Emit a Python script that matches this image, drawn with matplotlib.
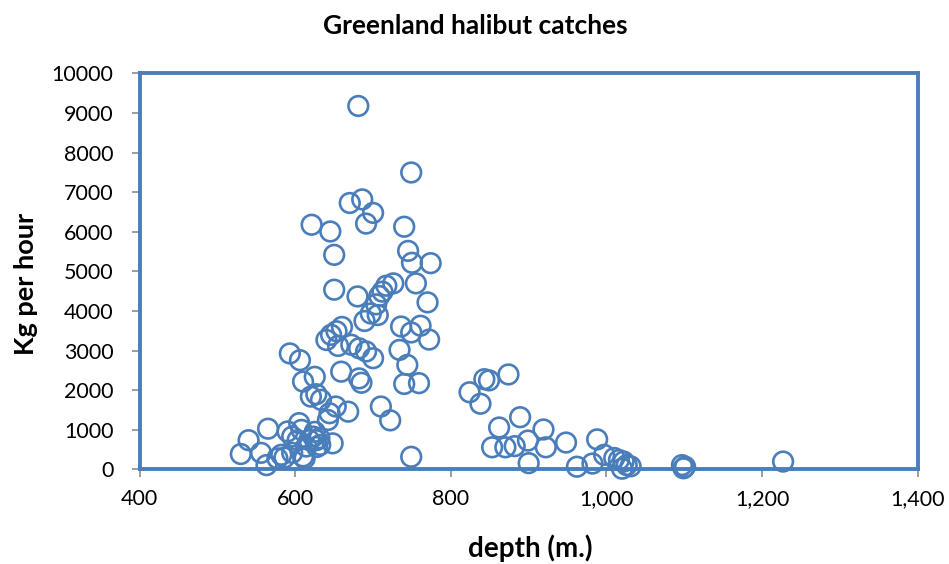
import matplotlib
matplotlib.use("Agg")
import matplotlib.pyplot as plt
from matplotlib.ticker import FuncFormatter

title = "Greenland halibut catches"
x_label = "depth (m.)"
y_label = "Kg per hour"

depth = [
    681, 749, 670, 686, 700, 691, 621, 645, 650, 740, 745, 750, 774,
    650, 680, 708, 712, 717, 726, 755, 770, 704, 697, 706, 689,
    736, 761, 749, 772, 734, 744, 740, 759,
    660, 653, 646, 640, 655, 672, 682, 691, 700,
    593, 606, 659, 682, 685, 610, 625,
    620, 627, 633, 652, 668, 710, 722, 749,
    530, 540, 565, 556, 563, 582, 586, 590, 596, 605, 608, 603,
    612, 614, 618, 623, 627, 631, 628, 632, 648, 642, 644, 577, 596, 610, 625,
    824, 838, 843, 849, 874, 862, 889, 853, 870, 882, 899, 919, 922, 900,
    948, 962, 982, 988, 997, 1010, 1016, 1022, 1026, 1020, 1031,
    1097, 1101, 1099, 1227,
]
kg_per_hour = [
    9180, 7500, 6730, 6820, 6480, 6210, 6180, 6010, 5420, 6130, 5520, 5220, 5210,
    4540, 4370, 4380, 4490, 4640, 4700, 4700, 4220, 4170, 3940, 3900, 3750,
    3610, 3630, 3460, 3280, 3020, 2640, 2160, 2180,
    3600, 3490, 3400, 3270, 3120, 3150, 3060, 2980, 2810,
    2930, 2760, 2470, 2300, 2190, 2220, 2340,
    1840, 1900, 1760, 1590, 1460, 1590, 1240, 320,
    390, 740, 1030, 420, 110, 370, 300, 960, 830, 1170, 1000, 740,
    280, 580, 740, 830, 740, 790, 570, 620, 660, 1250, 1420, 280, 420, 330, 950,
    1950, 1660, 2280, 2250, 2400, 1060, 1320, 560, 560, 590, 730, 1010, 560, 160,
    680, 70, 150, 760, 370, 290, 240, 200, 110, 20, 80,
    110, 70, 30, 200,
]

x_ticks = [400, 600, 800, 1000, 1200, 1400]
y_ticks = list(range(0, 10001, 1000))

blue = "#4A7EBB"
font = ["Lato", "DejaVu Sans"]
plt.rcParams["font.family"] = font

W, H = 949, 564
fig = plt.figure(figsize=(W / 100, H / 100), dpi=100)
ax = fig.add_axes([0.1472, 0.1676, 0.8198, 0.7021])

ax.scatter(depth, kg_per_hour, s=200, facecolors="none", edgecolors=blue,
           linewidths=1.9, clip_on=False, zorder=5)

ax.set_xlim(400, 1400)
ax.set_ylim(0, 10000)
ax.set_xticks(x_ticks)
ax.set_yticks(y_ticks)
ax.xaxis.set_major_formatter(FuncFormatter(lambda v, p: f"{int(v):,}"))
ax.yaxis.set_major_formatter(FuncFormatter(lambda v, p: f"{int(v)}"))

for s in ax.spines.values():
    s.set_color(blue)
    s.set_linewidth(2.8)
ax.tick_params(axis="both", direction="out", length=6, width=1.2,
               color="#8C8C8C", labelsize=15.5)
ax.tick_params(axis="y", pad=13)
ax.tick_params(axis="x", pad=8)

fig.text(475 / W, 1 - 26 / H, title, fontsize=19, fontweight="bold",
         ha="center", va="center")
fig.text(530 / W, 1 - 548 / H, x_label, fontsize=20, fontweight="bold",
         ha="center", va="center")
fig.text(26 / W, 1 - 284 / H, y_label, fontsize=19.5, fontweight="bold",
         ha="center", va="center", rotation=90)

fig.savefig("out.png", dpi=100)
